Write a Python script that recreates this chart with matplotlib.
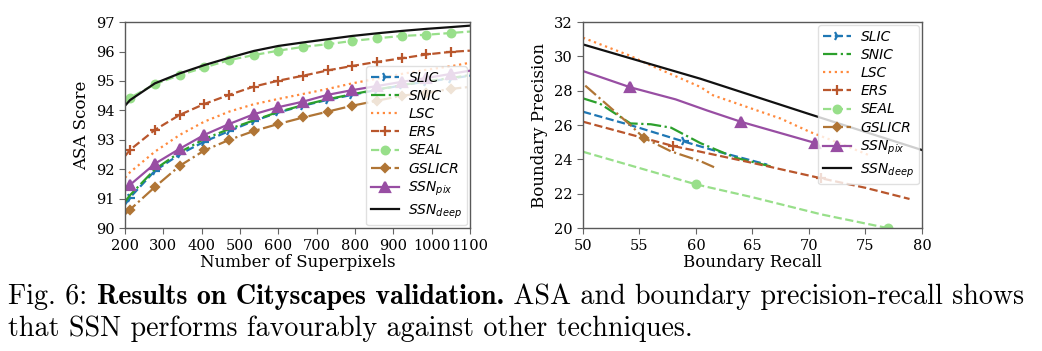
import numpy as np
import matplotlib
matplotlib.use('Agg')
import matplotlib.pyplot as plt

plt.rcParams['font.family'] = 'DejaVu Serif'
plt.rcParams['mathtext.fontset'] = 'dejavusans'

methods = ['SLIC', 'SNIC', 'LSC', 'ERS', 'SEAL', 'GSLICR', 'SSN_pix', 'SSN_deep']
labels = ['SLIC', 'SNIC', 'LSC', 'ERS', 'SEAL', 'GSLICR',
          r'$SSN_{pix}$', r'$SSN_{deep}$']
colors = ['#1f77b4', '#2ca02c', '#ff8a3d', '#b9562c', '#98df8a', '#b07535',
          '#984ea3', '#111111']
styles = ['--', '-.', ':', '--', '--', '-.', '-', '-']
markers = ['4', None, None, '+', 'o', 'D', '^', None]
msizes = [7, 6, 6, 7, 5.5, 4.5, 6.5, 6]

# ASA vs number of superpixels
n_sp = [200, 213, 278, 343, 407, 472, 536, 600, 665, 729, 793, 858, 922, 986, 1050, 1100]
asa = {
    'SLIC':     [90.80, 91.04, 91.95, 92.51, 92.94, 93.30, 93.64, 93.93, 94.16, 94.36, 94.53, 94.70, 94.85, 94.98, 95.08, 95.18],
    'SNIC':     [90.90, 91.12, 92.00, 92.58, 93.03, 93.37, 93.66, 93.95, 94.18, 94.38, 94.55, 94.71, 94.86, 94.99, 95.10, 95.20],
    'LSC':      [91.71, 91.90, 92.60, 93.17, 93.62, 93.96, 94.21, 94.39, 94.56, 94.73, 94.92, 95.08, 95.24, 95.38, 95.50, 95.62],
    'ERS':      [92.45, 92.66, 93.34, 93.85, 94.22, 94.53, 94.81, 95.01, 95.18, 95.36, 95.51, 95.65, 95.77, 95.90, 95.99, 96.03],
    'SEAL':     [94.25, 94.43, 94.89, 95.20, 95.46, 95.71, 95.88, 96.03, 96.16, 96.25, 96.36, 96.45, 96.53, 96.57, 96.63, 96.68],
    'GSLICR':   [90.47, 90.63, 91.40, 92.12, 92.64, 93.00, 93.30, 93.54, 93.76, 93.96, 94.16, 94.33, 94.50, 94.60, 94.73, 94.80],
    'SSN_pix':  [91.28, 91.47, 92.19, 92.70, 93.17, 93.54, 93.87, 94.11, 94.30, 94.53, 94.69, 94.83, 94.97, 95.10, 95.24, 95.35],
    'SSN_deep': [94.16, 94.35, 94.92, 95.26, 95.54, 95.79, 96.02, 96.19, 96.31, 96.42, 96.53, 96.62, 96.70, 96.77, 96.83, 96.88],
}
asa_marks = list(range(1, 15))

# boundary precision-recall
br_recall = {
    'SLIC':     [50, 54.2, 58.9, 62.0, 66.3],
    'SNIC':     [50, 51.5, 54.2, 56.0, 57.8, 60.4, 63.5, 66.6],
    'LSC':      [50, 54.1, 56.0, 60.4, 61.5, 64.5, 67.5, 70.1, 72.5, 75.5],
    'ERS':      [50, 58.0, 60.4, 65.0, 71.1, 75.0, 78.9],
    'SEAL':     [50, 55.0, 60.0, 65.0, 71.1, 77.0],
    'GSLICR':   [50.2, 54.2, 55.4, 57.8, 60.4, 61.6],
    'SSN_pix':  [50, 54.2, 58.2, 61.0, 64.0, 70.5],
    'SSN_deep': [50, 60.4, 70.0, 80.0],
}
br_prec = {
    'SLIC':     [26.78, 26.00, 25.05, 24.45, 23.70],
    'SNIC':     [27.56, 27.25, 26.10, 26.05, 25.85, 24.95, 24.10, 23.60],
    'LSC':      [31.09, 30.06, 29.48, 28.22, 27.74, 27.06, 26.38, 25.60, 25.00, 24.20],
    'ERS':      [26.20, 24.78, 24.45, 23.80, 22.90, 22.35, 21.70],
    'SEAL':     [24.45, 23.50, 22.55, 21.80, 20.80, 20.00],
    'GSLICR':   [28.30, 26.00, 25.25, 24.47, 23.90, 23.55],
    'SSN_pix':  [29.15, 28.20, 27.50, 26.85, 26.19, 24.97],
    'SSN_deep': [30.70, 28.70, 26.65, 24.55],
}
br_marks = {'SLIC': [2], 'ERS': [1, 4], 'SEAL': [2, 5], 'GSLICR': [2],
            'SSN_pix': [1, 4, 5]}

caption1 = ['Fig. 6: ', 'Results on Cityscapes validation.', ' ASA and boundary precision-recall shows']
caption2 = 'that SSN performs favourably against other techniques.'

fig = plt.figure(figsize=(10.42, 3.51), dpi=100)
ax1 = fig.add_axes([0.120, 0.350, 0.331, 0.587])
ax2 = fig.add_axes([0.5595, 0.350, 0.3253, 0.587])

for i, m in enumerate(methods):
    kw = dict(color=colors[i], linestyle=styles[i], linewidth=1.6, marker=markers[i],
              markersize=msizes[i], markeredgewidth=1.6, label=labels[i])
    ax1.plot(n_sp, asa[m], markevery=asa_marks, **kw)
    ax2.plot(br_recall[m], br_prec[m], markevery=br_marks.get(m, []), **kw)

ax1.set_xlim(200, 1100)
ax1.set_ylim(90, 97)
ax1.set_xticks(np.arange(200, 1101, 100))
ax1.set_yticks(np.arange(90, 98, 1))
ax1.set_xlabel('Number of Superpixels', fontsize=12, labelpad=1)
ax1.set_ylabel('ASA Score', fontsize=12, labelpad=4)

ax2.set_xlim(50, 80)
ax2.set_ylim(20, 32)
ax2.set_xticks(np.arange(50, 81, 5))
ax2.set_yticks(np.arange(20, 33, 2))
ax2.set_xlabel('Boundary Recall', fontsize=12, labelpad=1)
ax2.set_ylabel('Boundary Precision', fontsize=12, labelpad=4)

for ax in (ax1, ax2):
    ax.tick_params(labelsize=10.5, length=4, color='0.4')
    for s in ax.spines.values():
        s.set_color('0.35')
        s.set_linewidth(1.0)

leg_kw = dict(prop={'family': 'DejaVu Sans', 'style': 'italic', 'size': 10},
              framealpha=0.8, edgecolor='0.85', handlelength=2.0, borderpad=0.35,
              labelspacing=0.3, borderaxespad=0.2, handletextpad=0.7)
ax1.legend(loc='lower right', **leg_kw)
ax2.legend(loc='upper right', **leg_kw)

# caption, mixed regular / bold
cap_fs = 20.2
t0 = fig.text(0.008, 0.117, caption1[0], fontsize=cap_fs, family='cmr10', va='bottom')
tb = plt.annotate(caption1[1], xy=(1, 0), xycoords=t0, fontsize=cap_fs, family='cmb10',
                  va='bottom', annotation_clip=False)
plt.annotate(caption1[2], xy=(1, 0), xycoords=tb, fontsize=cap_fs, family='cmr10',
             va='bottom', annotation_clip=False)
fig.text(0.008, 0.026, caption2, fontsize=cap_fs, family='cmr10', va='bottom')

fig.savefig('out.png', dpi=100)
